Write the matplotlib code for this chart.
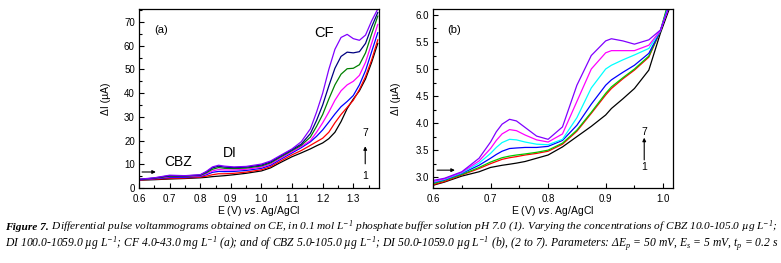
import matplotlib

matplotlib.use("Agg")
import matplotlib.pyplot as plt

plt.rcParams["font.family"] = ["Liberation Sans", "DejaVu Sans"]
plt.rcParams["mathtext.fontset"] = "custom"
plt.rcParams["mathtext.rm"] = "Liberation Serif:italic"
plt.rcParams["mathtext.it"] = "Liberation Serif:italic"
plt.rcParams["mathtext.bf"] = "Liberation Serif:italic:bold"

# ---- panel (a): DPV, 7 traces ----
xa = [0.60, 0.65, 0.70, 0.75, 0.80, 0.82, 0.84, 0.86, 0.88, 0.91, 0.95, 1.00,
      1.03, 1.06, 1.10, 1.13, 1.16, 1.18, 1.20, 1.22, 1.24, 1.26, 1.28, 1.30,
      1.32, 1.34, 1.36, 1.38]
a1 = [3.3, 3.5, 3.8, 4.0, 4.3, 4.5, 4.8, 5.0, 5.2, 5.6, 6.2, 7.2,
      8.5, 10.6, 13.2, 14.8, 16.5, 17.8, 19.0, 20.8, 23.5, 28.0, 33.5, 37.5,
      41.0, 46.0, 53.0, 61.0]
a2 = [3.4, 3.7, 4.0, 4.2, 4.6, 5.0, 5.6, 6.0, 6.0, 6.2, 6.7, 7.7,
      9.0, 11.2, 14.0, 15.8, 18.0, 19.5, 21.0, 23.5, 27.5, 31.0, 34.0, 37.0,
      41.5, 47.0, 54.0, 62.5]
a3 = [3.5, 3.9, 4.4, 4.5, 4.9, 5.6, 6.6, 7.0, 6.9, 7.0, 7.4, 8.3,
      9.6, 11.9, 14.8, 17.0, 19.5, 21.8, 24.5, 27.8, 31.2, 34.3, 36.5, 39.0,
      43.5, 49.5, 57.5, 65.5]
a4 = [3.5, 4.0, 4.8, 4.8, 5.1, 6.0, 7.2, 7.8, 7.6, 7.6, 7.9, 8.8,
      10.1, 12.4, 15.3, 17.5, 20.0, 23.5, 27.5, 32.0, 37.0, 41.0, 43.5, 45.0,
      47.5, 53.0, 61.0, 69.0]
a5 = [3.6, 4.1, 5.0, 5.0, 5.3, 6.4, 7.9, 8.6, 8.3, 8.2, 8.4, 9.3,
      10.6, 12.9, 15.8, 18.0, 21.5, 26.0, 31.0, 37.5, 43.5, 48.0, 50.3, 50.5,
      52.0, 57.0, 65.0, 72.5]
a6 = [3.6, 4.2, 5.2, 5.1, 5.5, 6.8, 8.5, 9.2, 8.8, 8.6, 8.8, 9.7,
      11.0, 13.3, 16.2, 18.5, 23.0, 28.5, 35.0, 43.0, 50.5, 55.5, 57.3, 57.0,
      57.5, 61.0, 68.0, 74.0]
a7 = [3.7, 4.3, 5.4, 5.2, 5.6, 7.0, 8.9, 9.6, 9.2, 8.9, 9.1, 10.1,
      11.4, 13.6, 16.5, 19.5, 25.0, 32.0, 40.0, 50.0, 58.5, 63.5, 64.8, 63.0,
      62.3, 64.5, 70.5, 75.5]
colors_a = ["black", "red", "blue", "magenta", "#008000", "#000080", "#8000ff"]

# ---- panel (b): DPV, 7 traces ----
xb = [0.60, 0.62, 0.65, 0.68, 0.70, 0.71, 0.72, 0.733, 0.745, 0.76, 0.78, 0.80,
      0.825, 0.85, 0.875, 0.90, 0.91, 0.93, 0.95, 0.975, 0.995, 1.017]
b1 = [2.85, 2.91, 3.02, 3.10, 3.18, 3.20, 3.22, 3.24, 3.26, 3.29, 3.35, 3.41,
      3.56, 3.75, 3.94, 4.15, 4.27, 4.45, 4.64, 4.98, 5.66, 6.30]
b2 = [2.86, 2.92, 3.04, 3.16, 3.25, 3.29, 3.33, 3.36, 3.38, 3.41, 3.44, 3.48,
      3.61, 3.85, 4.18, 4.52, 4.64, 4.82, 4.98, 5.22, 5.70, 6.50]
b3 = [2.88, 2.94, 3.05, 3.18, 3.28, 3.32, 3.36, 3.39, 3.41, 3.43, 3.46, 3.50,
      3.63, 3.87, 4.20, 4.55, 4.67, 4.84, 5.00, 5.24, 5.70, 6.55]
b4 = [2.90, 2.95, 3.07, 3.22, 3.35, 3.42, 3.48, 3.53, 3.54, 3.55, 3.55, 3.57,
      3.68, 3.96, 4.35, 4.70, 4.80, 4.94, 5.07, 5.29, 5.70, 6.45]
b5 = [2.91, 2.96, 3.08, 3.26, 3.44, 3.55, 3.64, 3.70, 3.69, 3.65, 3.61, 3.60,
      3.70, 4.10, 4.65, 5.00, 5.07, 5.17, 5.26, 5.38, 5.71, 6.40]
b6 = [2.92, 2.97, 3.09, 3.30, 3.53, 3.68, 3.80, 3.88, 3.86, 3.78, 3.69, 3.65,
      3.80, 4.40, 5.00, 5.30, 5.34, 5.34, 5.34, 5.44, 5.71, 6.35]
b7 = [2.94, 2.98, 3.10, 3.35, 3.65, 3.84, 3.98, 4.07, 4.04, 3.92, 3.76, 3.70,
      3.93, 4.70, 5.25, 5.52, 5.56, 5.52, 5.46, 5.54, 5.72, 6.35]
colors_b = ["black", "red", "#00cc00", "blue", "cyan", "magenta", "#8000ff"]

xticks_a = [0.6, 0.7, 0.8, 0.9, 1.0, 1.1, 1.2, 1.3]
yticks_a = [0, 10, 20, 30, 40, 50, 60, 70]
xticks_b = [0.6, 0.7, 0.8, 0.9, 1.0]
yticks_b = [3.0, 3.5, 4.0, 4.5, 5.0, 5.5, 6.0]

caption_1a = "Figure 7."
caption_1b = (" Differential pulse voltammograms obtained on CE, in 0.1 mol L$^{-1}$ "
              "phosphate buffer solution pH 7.0 (1). Varying the concentrations of "
              "CBZ 10.0-105.0 \u00b5g L$^{-1}$;")
caption_2 = ("DI 100.0-1059.0 \u00b5g L$^{-1}$; CF 4.0-43.0 mg L$^{-1}$ (a); and of "
             "CBZ 5.0-105.0 \u00b5g L$^{-1}$; DI 50.0-1059.0 \u00b5g L$^{-1}$ (b), "
             "(2 to 7). Parameters: $\\Delta E_p$ = 50 mV, $E_s$ = 5 mV, $t_p$ = 0.2 s")

W, H = 781, 263
fig = plt.figure(figsize=(W / 100, H / 100), dpi=100)
ax_a = fig.add_axes([139 / W, 1 - 188 / H, 240 / W, 179 / H])
ax_b = fig.add_axes([433 / W, 1 - 188 / H, 240 / W, 179 / H])

for ys, c in zip([a1, a2, a3, a4, a5, a6, a7], colors_a):
    ax_a.plot(xa, ys, color=c, lw=0.9)
for ys, c in zip([b1, b2, b3, b4, b5, b6, b7], colors_b):
    ax_b.plot(xb, ys, color=c, lw=0.9)

ax_a.set_xlim(0.6, 1.384)
ax_a.set_ylim(0, 75.5)
ax_a.set_xticks(xticks_a)
ax_a.set_yticks(yticks_a)
ax_a.set_xticks([0.65, 0.75, 0.85, 0.95, 1.05, 1.15, 1.25, 1.35], minor=True)
ax_a.set_yticks([5, 15, 25, 35, 45, 55, 65, 75], minor=True)

ax_b.set_xlim(0.6, 1.017)
ax_b.set_ylim(2.8, 6.11)
ax_b.set_xticks(xticks_b)
ax_b.set_yticks(yticks_b)
ax_b.set_xticks([0.65, 0.75, 0.85, 0.95], minor=True)
ax_b.set_yticks([3.25, 3.75, 4.25, 4.75, 5.25, 5.75], minor=True)

for ax in (ax_a, ax_b):
    ax.xaxis.set_major_formatter(matplotlib.ticker.FormatStrFormatter("%.1f"))
    ax.tick_params(which="both", direction="in", labelsize=7, width=0.8)
    ax.tick_params(axis="x", pad=4)
    ax.tick_params(axis="y", pad=3)
    ax.tick_params(which="major", length=3.5)
    ax.tick_params(which="minor", length=2)
    for s in ax.spines.values():
        s.set_linewidth(0.9)
    ax.set_xlabel("E (V) $\\mathit{vs}$. Ag/AgCl", fontsize=7.5,
                  math_fontfamily="dejavusans")
    ax.xaxis.set_label_coords(0.5, -16.5 / 179)
    ax.set_ylabel("\u0394I (\u00b5A)", fontsize=7.5)

ax_a.yaxis.set_label_coords(-28 / 240, 0.5)
ax_b.yaxis.set_label_coords(-32 / 240, 0.5)

# panel (a) annotations
ax_a.text(0.671, 66.7, "(a)", fontsize=8, ha="center", va="center")
ax_a.text(1.205, 65.4, "CF", fontsize=10.5, ha="center", va="center")
ax_a.text(0.727, 11.0, "CBZ", fontsize=10, ha="center", va="center")
ax_a.text(0.897, 14.8, "DI", fontsize=10, ha="center", va="center")
ax_a.annotate("", xy=(0.655, 6.75), xytext=(0.61, 6.75),
              arrowprops=dict(arrowstyle="-|>", color="black", lw=0.8,
                              mutation_scale=5, shrinkA=0, shrinkB=0))
ax_a.text(1.339, 23.2, "7", fontsize=7.5, ha="center", va="center")
ax_a.text(1.339, 5.1, "1", fontsize=7.5, ha="center", va="center")
ax_a.annotate("", xy=(1.339, 17.6), xytext=(1.339, 10.2),
              arrowprops=dict(arrowstyle="-|>", color="black", lw=0.8,
                              mutation_scale=5, shrinkA=0, shrinkB=0))

# panel (b) annotations
ax_b.text(0.637, 5.72, "(b)", fontsize=8, ha="center", va="center")
ax_b.annotate("", xy=(0.638, 3.13), xytext=(0.607, 3.13),
              arrowprops=dict(arrowstyle="-|>", color="black", lw=0.8,
                              mutation_scale=5, shrinkA=0, shrinkB=0))
ax_b.text(0.967, 3.84, "7", fontsize=7.5, ha="center", va="center")
ax_b.text(0.967, 3.19, "1", fontsize=7.5, ha="center", va="center")
ax_b.annotate("", xy=(0.967, 3.73), xytext=(0.967, 3.32),
              arrowprops=dict(arrowstyle="-|>", color="black", lw=0.8,
                              mutation_scale=5, shrinkA=0, shrinkB=0))

# caption, two lines fitted to the figure width
cap_kw = dict(family="Liberation Serif", style="italic", va="center", ha="left")
t1a = fig.text(5 / W, 1 - 227 / H, caption_1a, weight="bold", fontsize=8.5, **cap_kw)
t1b = fig.text(0, 1 - 227 / H, caption_1b, fontsize=8.5, **cap_kw)
t2 = fig.text(5 / W, 1 - 244 / H, caption_2, fontsize=8.5, **cap_kw)

fig.canvas.draw()
r = fig.canvas.get_renderer()
w1 = t1a.get_window_extent(r).width + t1b.get_window_extent(r).width
s1 = 8.5 * 770 / w1
t1a.set_fontsize(s1)
t1b.set_fontsize(s1)
w2 = t2.get_window_extent(r).width
t2.set_fontsize(8.5 * 770 / w2)
fig.canvas.draw()
x_end = t1a.get_window_extent(r).x1
t1b.set_x(x_end / W)

fig.savefig("out.png", dpi=100)
